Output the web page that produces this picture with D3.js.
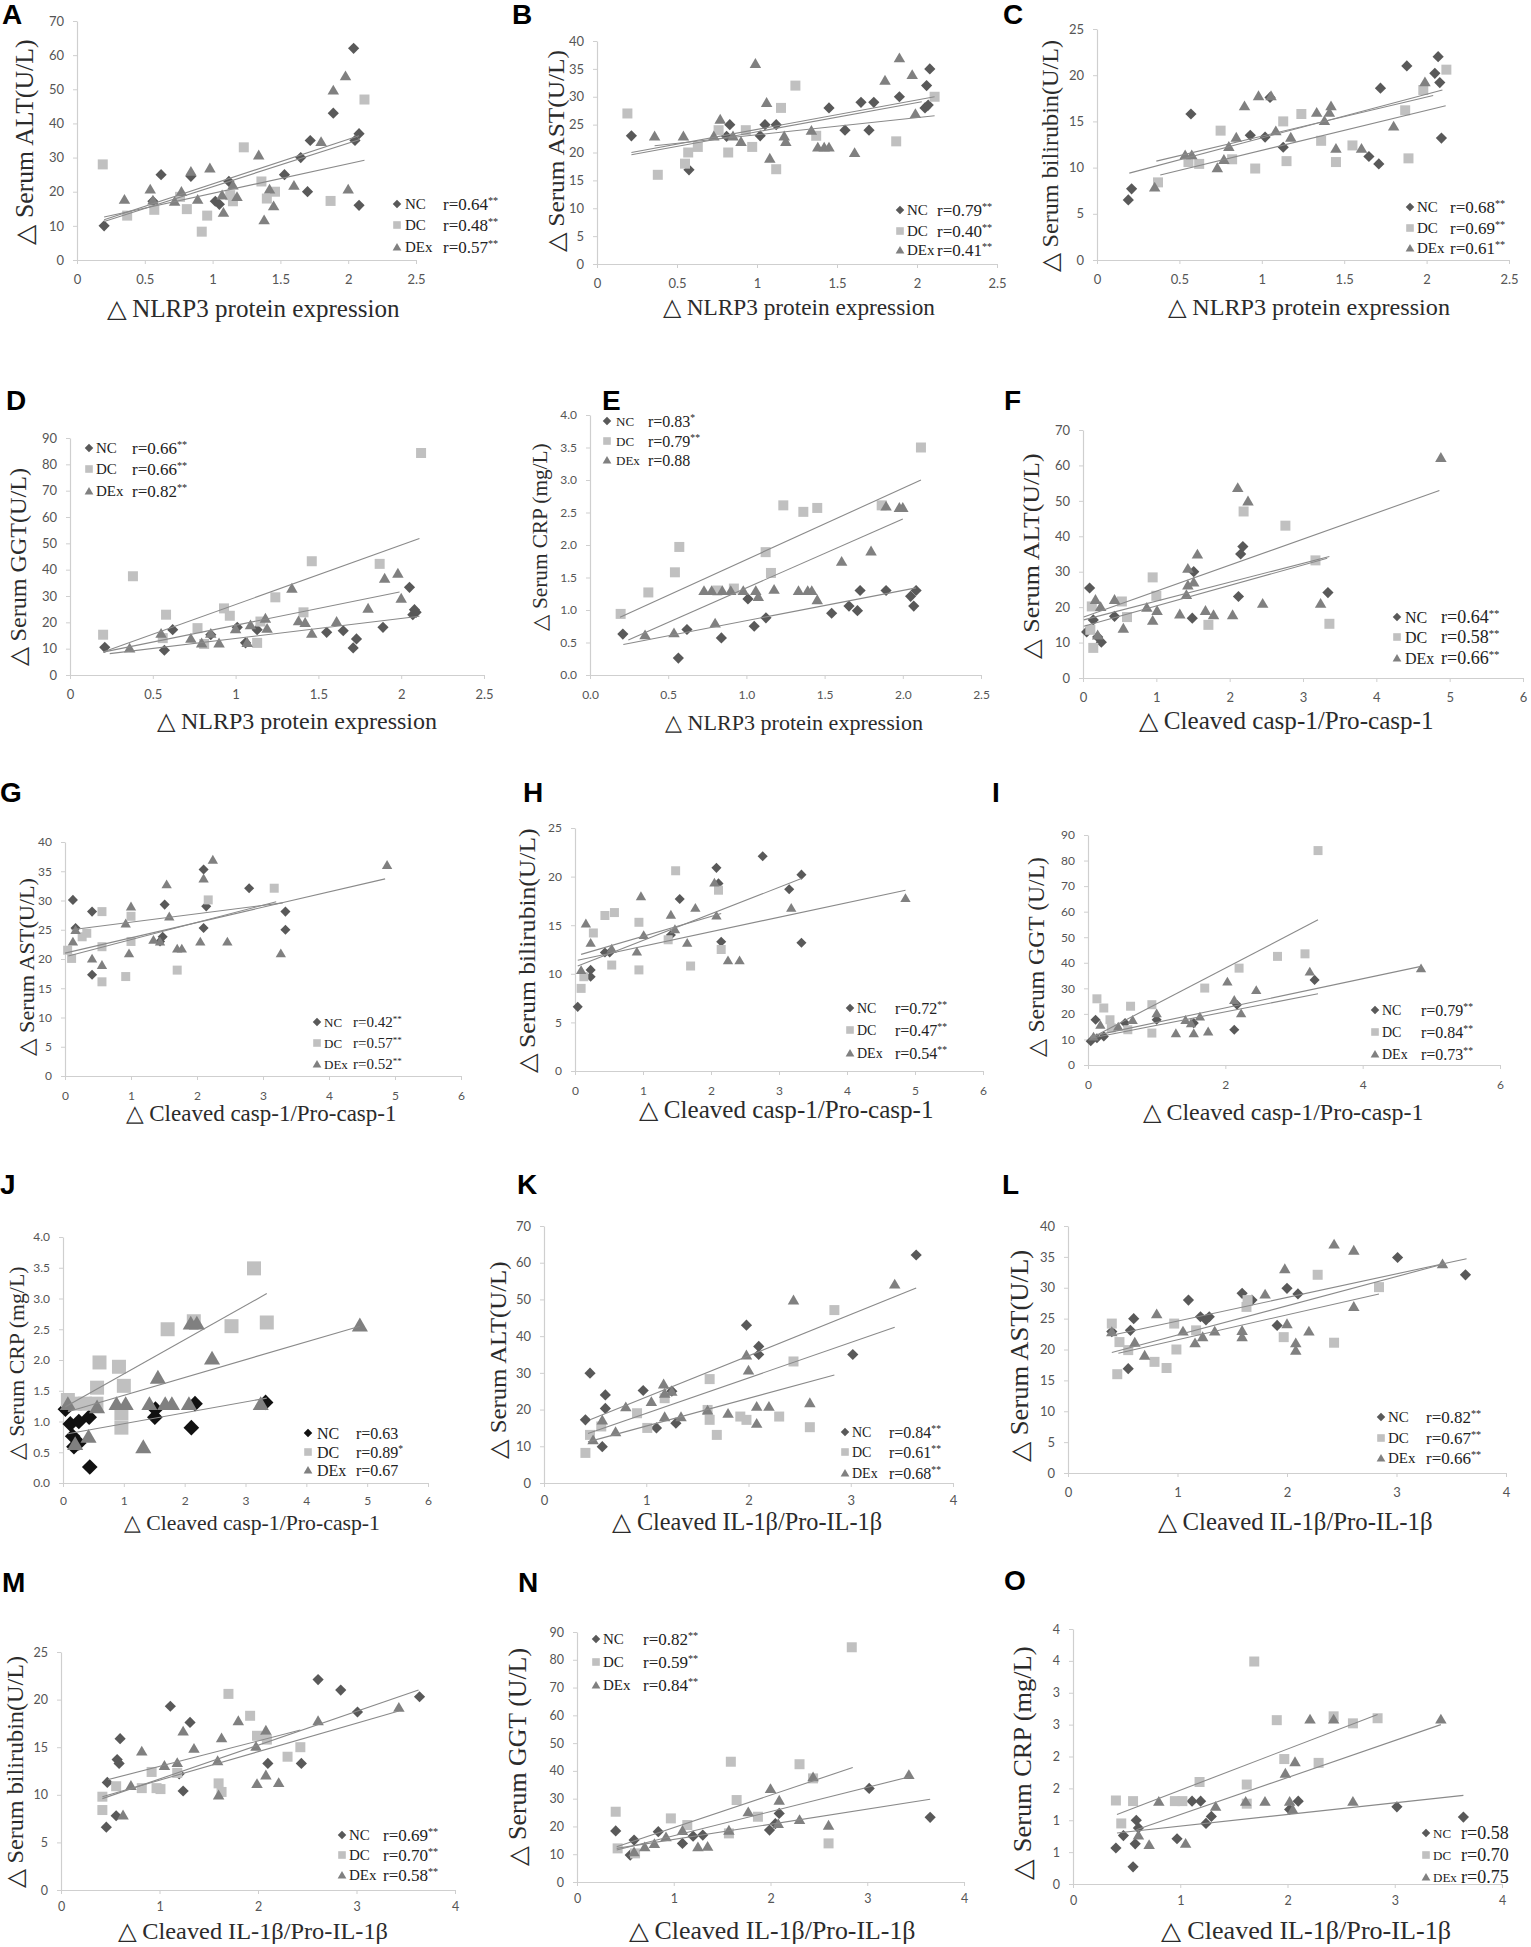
<!DOCTYPE html>
<html><head><meta charset="utf-8">
<script src="https://cdn.jsdelivr.net/npm/d3@7"></script>
<style>body{margin:0;background:#fff}svg{display:block}</style>
</head><body>
<svg id="chart" width="1531" height="1947"></svg>
<script>
// ---------- tick values / labels ----------
const NLRP3_X = [0,0.5,1,1.5,2,2.5];
const E_XL = ["0.0","0.5","1.0","1.5","2.0","2.5"];
const CASP_X = [0,1,2,3,4,5,6];
const I_X = [0,2,4,6];
const IL_X = [0,1,2,3,4];
const ALT_Y = [0,10,20,30,40,50,60,70];
const AST_Y = [0,5,10,15,20,25,30,35,40];
const BIL_Y = [0,5,10,15,20,25];
const GGT_Y = [0,10,20,30,40,50,60,70,80,90];
const CRP_Y = [0,0.5,1,1.5,2,2.5,3,3.5,4];
const CRP_YL = ["0.0","0.5","1.0","1.5","2.0","2.5","3.0","3.5","4.0"];
const O_YL = ["0","1","1","2","2","3","3","4","4"];
const SERIES = ["NC","DC","DEx"];

// ---------- titles ----------
const T_ALT = "△ Serum ALT(U/L)", T_AST = "△ Serum AST(U/L)", T_BIL = "△ Serum bilirubin(U/L)";
const T_GGT = "△ Serum GGT(U/L)", T_GGT2 = "△ Serum GGT (U/L)", T_CRP = "△ Serum CRP (mg/L)";
const T_NLRP3 = "△ NLRP3 protein expression", T_CASP = "△ Cleaved casp-1/Pro-casp-1", T_IL = "△ Cleaved IL-1β/Pro-IL-1β";

// ---------- data (x, y) ----------
const A_NC = [[0.2,10],[0.56,17.2],[0.62,25],[0.84,24.5],[1.02,17.2],[1.05,16.3],[1.12,23],[1.53,25],[1.65,30],[1.70,20],[1.72,35],[1.89,43],[2.04,62],[2.05,35],[2.08,37],[2.08,16]];
const A_DC = [[0.19,28],[0.37,13],[0.57,14.7],[0.76,18.5],[0.81,14.9],[0.92,8.3],[0.96,13],[1.13,19],[1.15,17.2],[1.23,33],[1.36,23],[1.40,18],[1.46,20],[1.87,17.3],[2.12,47]];
const A_DEx = [[0.35,17.8],[0.54,20.8],[0.56,17.6],[0.72,17.2],[0.77,20.1],[0.84,26],[0.89,17.8],[0.98,27],[1.07,19.1],[1.08,14],[1.15,22],[1.18,18.6],[1.34,30.8],[1.38,11.8],[1.42,20.8],[1.45,15.9],[1.60,21.9],[1.80,34.7],[1.89,49.8],[1.98,54],[2.0,20.8]];
const A_fit = [[0.2,11.3,2.08,35.2],[0.2,12.6,2.12,29.2],[0.2,11.8,2.08,36.4]];
const A_r = ["0.64","0.48","0.57"], A_sig = ["**","**","**"];

const B_NC = [[0.215,23],[0.575,16.9],[0.81,22.9],[0.83,25],[1.02,23],[1.05,25],[1.12,25],[1.45,28],[1.55,24],[1.65,29],[1.70,24],[1.73,29],[1.89,30],[2.05,28],[2.06,32],[2.07,28.5],[2.08,35]];
const B_DC = [[0.19,27],[0.38,16],[0.55,18],[0.57,20],[0.63,21],[0.76,24],[0.82,20],[0.93,24],[0.97,21],[1.12,17],[1.15,28],[1.24,32],[1.37,23],[1.87,22],[2.11,30]];
const B_DEx = [[0.36,23],[0.54,23],[0.73,23],[0.77,26],[0.85,23],[0.90,22],[0.99,36],[1.06,29],[1.08,19],[1.17,23],[1.18,22],[1.34,24],[1.38,21],[1.42,21],[1.45,21],[1.61,20],[1.80,33],[1.89,37],[1.97,34],[1.99,27]];
const B_fit = [[0.215,20,2.11,30],[0.215,19.6,2.03,29.1],[0.36,21.2,2.11,26.6]];
const B_r = ["0.79","0.40","0.41"], B_sig = ["**","**","**"];

const C_NC = [[0.19,6.5],[0.21,7.7],[0.57,15.8],[0.93,13.5],[1.02,13.3],[1.05,17.6],[1.13,12.2],[1.65,11.2],[1.71,10.4],[1.72,18.6],[1.88,21],[2.05,20.2],[2.07,22],[2.08,19.2],[2.09,13.2]];
const C_DC = [[0.37,8.4],[0.555,10.6],[0.62,10.4],[0.75,14],[0.82,10.9],[0.96,9.9],[1.13,15],[1.15,10.7],[1.24,15.8],[1.36,12.9],[1.45,10.6],[1.55,12.4],[1.87,16.2],[1.89,11],[1.98,18.4],[2.12,20.6]];
const C_DEx = [[0.35,7.9],[0.535,11.4],[0.575,11.4],[0.73,10],[0.77,10.9],[0.80,12.3],[0.845,13.3],[0.895,16.7],[0.98,17.8],[1.056,17.8],[1.085,14],[1.176,13.3],[1.333,16],[1.38,15.1],[1.41,16],[1.42,16.7],[1.45,12.1],[1.605,12.1],[1.80,14.5],[1.99,19.3]];
const C_fit = [[0.196,9.4,2.096,18.4],[0.36,10.7,2.04,17.8],[0.384,9.2,2.116,16.7]];
const C_r = ["0.68","0.69","0.61"], C_sig = ["**","**","**"];

const D_NC = [[0.21,10.5],[0.57,9.4],[0.62,17.2],[0.85,15.3],[1.01,18.1],[1.06,12.2],[1.13,17.2],[1.55,16.2],[1.65,16.8],[1.71,10.3],[1.73,13.7],[1.89,18.1],[2.05,33.3],[2.07,22.9],[2.08,24.8],[2.09,23.8]];
const D_DC = [[0.2,15.3],[0.38,37.5],[0.56,14],[0.58,22.9],[0.77,17.8],[0.81,11.8],[0.93,25.3],[0.965,22.5],[1.13,12.2],[1.15,20.3],[1.24,29.5],[1.41,23.8],[1.46,43.2],[1.87,42.2],[2.12,84.3]];
const D_DEx = [[0.36,10.3],[0.55,15.9],[0.73,14],[0.795,12.2],[0.85,15.9],[0.90,12.2],[1.0,17.6],[1.07,12.4],[1.09,19.1],[1.18,21.6],[1.19,17.8],[1.34,33],[1.38,20.6],[1.42,20],[1.46,15.9],[1.61,20.4],[1.80,25.4],[1.90,36.8],[1.98,38.7],[2.0,29.2]];
const D_fit = [[0.2,8.7,2.11,51.8],[0.2,8.7,1.99,31.5],[0.24,8.1,2.11,22.3]];
const D_r = ["0.66","0.66","0.82"], D_sig = ["**","**","**"];

const E_NC = [[0.21,0.63],[0.565,0.26],[0.62,0.70],[0.84,0.57],[1.01,1.17],[1.05,0.75],[1.125,0.88],[1.545,0.95],[1.656,1.06],[1.71,0.99],[1.727,1.30],[1.893,1.30],[2.05,1.21],[2.07,1.06],[2.085,1.30]];
const E_DC = [[0.196,0.94],[0.373,1.27],[0.543,1.58],[0.571,1.97],[0.814,1.30],[0.92,1.33],[1.123,1.89],[1.157,1.57],[1.236,2.61],[1.364,2.51],[1.453,2.57],[1.865,2.61],[2.116,3.50]];
const E_DEx = [[0.352,0.62],[0.537,0.65],[0.729,1.30],[0.778,1.30],[0.80,0.80],[0.846,1.30],[0.90,1.30],[0.98,1.30],[1.06,1.30],[1.076,1.21],[1.177,1.32],[1.333,1.30],[1.392,1.30],[1.418,1.30],[1.453,1.16],[1.609,1.75],[1.797,1.91],[1.893,2.60],[1.978,2.58],[2.0,2.58]];
const E_fit = [[0.192,0.89,2.116,3.0],[0.245,0.54,2.0,2.40],[0.213,0.47,2.085,1.34]];
const E_r = ["0.83","0.79","0.88"], E_sig = ["*","**",""];

const F_NC = [[0.05,13],[0.09,25.4],[0.14,16.4],[0.2,11.6],[0.25,10.1],[0.43,17.4],[1.49,16.9],[1.51,30],[2.12,23],[2.15,35],[2.18,37.1],[3.34,24.1]];
const F_DC = [[0.1,13.6],[0.12,20.2],[0.14,8.5],[0.53,21.6],[0.6,17.2],[0.95,28.4],[1.0,23.2],[1.71,15],[2.19,47],[2.76,43],[3.17,33.2],[3.36,15.3]];
const F_DEx = [[0.17,22.2],[0.2,12.2],[0.24,20.2],[0.43,22.2],[0.55,14.1],[0.87,20],[0.95,16.3],[1.01,19.1],[1.32,18.1],[1.41,23.6],[1.43,26.3],[1.43,31],[1.51,27.1],[1.56,35],[1.67,19.1],[1.78,17.9],[2.04,17.9],[2.11,53.8],[2.25,50],[2.45,21.1],[3.24,21.1],[4.88,62.3]];
const F_fit = [[0.01,17.2,4.86,52.9],[0.01,16.4,3.36,34.3],[0.01,14.6,3.33,33.8]];
const F_r = ["0.64","0.58","0.66"], F_sig = ["**","**","**"];

const G_NC = [[0.12,30.1],[0.16,25.3],[0.41,28.1],[0.41,17.3],[1.44,23],[1.48,23.8],[1.51,29.3],[2.1,35.3],[2.1,25.3],[2.14,29],[2.79,32.1],[3.34,28.1],[3.34,25]];
const G_DC = [[0.04,21.5],[0.1,20.1],[0.26,23.8],[0.33,24.4],[0.56,28.1],[0.56,16.1],[0.56,22.1],[0.92,17],[1.0,27.3],[1.0,23],[1.7,18.1],[2.17,30.1],[3.17,32.1]];
const G_DEx = [[0.12,23],[0.16,25],[0.41,20.1],[0.56,19],[0.92,26.1],[0.97,21],[1.0,29],[1.34,23.3],[1.44,23],[1.54,32.8],[1.58,27.3],[1.7,21.8],[1.77,21.8],[2.05,23],[2.1,33.8],[2.24,37],[2.46,23],[3.27,21],[4.88,36.1]];
const G_fit = [[0,21,4.85,33.7],[0.1,25,3.3,29.6],[0.05,20.5,3.2,29.8]];
const G_r = ["0.42","0.57","0.52"], G_sig = ["**","**","**"];

const H_NC = [[0.04,6.6],[0.23,9.7],[0.23,10.4],[0.44,12.2],[0.51,12.2],[1.41,14],[1.54,17.7],[2.08,20.9],[2.11,19.3],[2.15,13.3],[2.76,22.1],[3.15,18.7],[3.33,20.2],[3.33,13.2]];
const H_DC = [[0.09,8.5],[0.13,9.7],[0.27,14.2],[0.44,16],[0.54,10.9],[0.58,16.3],[0.94,15.3],[0.94,10.4],[1.37,13.5],[1.48,20.6],[1.7,10.8],[2.11,18.6],[2.15,12.5]];
const H_DEx = [[0.09,10.4],[0.16,15.2],[0.23,13.2],[0.54,12.6],[0.91,12.3],[0.97,18],[1.01,14],[1.41,16.1],[1.47,14.6],[1.65,13.2],[1.77,16.8],[2.05,19.4],[2.08,16],[2.25,11.4],[2.42,11.4],[3.18,16.8],[4.86,17.8]];
const H_fit = [[0.04,10.8,3.33,19.8],[0.04,11.4,4.86,18.6],[0.09,12,2.15,16.2]];
const H_r = ["0.72","0.47","0.54"], H_sig = ["**","**","**"];

const I_NC = [[0.04,9.3],[0.11,17.7],[0.13,10.5],[0.23,11.2],[0.54,16.4],[1.0,17.7],[1.54,16.4],[2.13,13.8],[2.17,23.6],[3.3,33.3]];
const I_DC = [[0.13,25.9],[0.23,22.3],[0.32,17.7],[0.34,14.5],[0.58,13.8],[0.62,23],[0.93,23.6],[0.93,12.5],[1.7,30.1],[2.2,37.9],[2.76,42.5],[3.16,43.5],[3.35,83.9]];
const I_DEx = [[0.08,11.2],[0.18,15.8],[0.44,15.1],[0.65,17.7],[1.0,20.3],[1.28,12.5],[1.42,17.7],[1.5,16.4],[1.54,12.5],[1.63,19],[1.75,13.2],[2.03,32.7],[2.13,25.5],[2.23,20.3],[2.45,29.4],[3.23,36.6],[4.85,37.9]];
const I_fit = [[0.04,10.5,3.35,56.8],[0.04,11.2,4.85,38.6],[0.04,10.5,3.35,27.9]];
const I_r = ["0.79","0.84","0.73"], I_sig = ["**","**","**"];

const J_NC = [[0.04,1.2],[0.12,0.96],[0.16,0.76],[0.18,0.59],[0.26,1.0],[0.26,0.65],[0.43,1.07],[0.44,0.26],[1.51,1.07],[1.52,1.2],[2.11,0.9],[2.17,1.29],[3.33,1.31]];
const J_DC = [[0.08,1.35],[0.2,1.29],[0.36,1.29],[0.55,1.29],[0.56,1.55],[0.6,1.96],[0.92,1.89],[0.96,0.9],[0.96,1.13],[1.0,1.58],[1.72,2.5],[2.15,2.63],[2.77,2.55],[3.14,3.49],[3.35,2.61]];
const J_DEx = [[0.08,1.29],[0.2,0.64],[0.42,0.76],[0.56,1.24],[0.88,1.29],[1.03,1.29],[1.32,0.59],[1.42,1.29],[1.56,1.72],[1.68,1.29],[1.79,1.29],[2.07,1.29],[2.1,2.6],[2.2,2.6],[2.45,2.03],[3.25,1.29],[4.88,2.57]];
const J_fit = [[0.04,1.24,3.35,3.08],[0.08,1.16,4.88,2.55],[0.08,0.8,3.35,1.38]];
const J_r = ["0.63","0.89","0.67"], J_sig = ["","*",""];

const K_NC = [[0.405,17.2],[0.45,29.9],[0.57,9.9],[0.6,24],[0.6,20.3],[0.97,25.2],[1.1,15],[1.25,25],[1.29,16.3],[1.98,43],[2.1,37.2],[2.1,35],[3.02,35],[3.64,62.1]];
const K_DC = [[0.405,8.2],[0.45,13.1],[0.56,15.4],[0.91,19],[1.01,15],[1.18,23.1],[1.6,19.9],[1.62,28.3],[1.62,17.2],[1.69,13.1],[1.92,18.1],[1.98,17.2],[2.3,18.1],[2.44,33.1],[2.6,15.2],[2.84,47.1]];
const K_DEx = [[0.48,11.8],[0.57,17.2],[0.7,14],[0.8,20.8],[1.05,22.2],[1.17,27],[1.18,24.5],[1.18,18.1],[1.25,25],[1.34,18.1],[1.6,19.9],[1.8,19],[1.98,34.9],[2.0,30.8],[2.08,20.9],[2.08,16.3],[2.2,20.9],[2.44,49.9],[2.6,21.9],[3.43,54.2]];
const K_fit = [[0.45,17.2,3.64,53.1],[0.43,13.5,3.43,42.4],[0.43,11.2,2.84,29.4]];
const K_r = ["0.84","0.61","0.68"], K_sig = ["**","**","**"];

const L_NC = [[0.4,22.9],[0.55,16.9],[0.57,23.1],[0.6,25],[1.1,28],[1.21,25.3],[1.26,24.8],[1.29,25.3],[1.59,29.1],[1.68,28],[1.91,23.9],[2.0,29.9],[2.1,29],[3.01,34.9],[3.63,32.1]];
const L_DC = [[0.4,24.2],[0.45,16],[0.47,21.2],[0.55,19.9],[0.79,18],[0.9,17],[0.97,24.2],[0.99,20],[1.17,23.1],[1.63,26.9],[1.64,28],[1.97,22],[2.28,32.1],[2.43,21.1],[2.84,30.1]];
const L_DEx = [[0.4,22.9],[0.61,21.2],[0.7,19.1],[0.81,25.8],[1.05,23],[1.16,21.1],[1.23,22.1],[1.34,23],[1.59,23.1],[1.59,22.1],[1.8,29],[1.98,33.1],[2.0,24.2],[2.08,21.1],[2.08,19.9],[2.2,23],[2.43,37.1],[2.61,36.1],[2.61,27],[3.42,33.9]];
const L_fit = [[0.4,22.3,3.64,34.7],[0.4,19.5,3.42,33.8],[0.46,19.4,2.84,29]];
const L_r = ["0.82","0.67","0.66"], L_sig = ["**","**","**"];

const M_NC = [[0.46,6.6],[0.47,11.3],[0.56,7.8],[0.57,13.7],[0.59,13.3],[0.6,15.9],[1.11,19.3],[1.2,12.2],[1.24,10.4],[1.31,17.6],[2.1,13.3],[2.44,13.3],[2.61,22.1],[2.84,21],[3.01,18.7],[3.64,20.3]];
const M_DC = [[0.42,9.8],[0.42,8.4],[0.56,10.9],[0.82,10.7],[0.92,12.4],[0.97,10.7],[1.01,10.6],[1.18,12.3],[1.6,11.2],[1.63,10.3],[1.7,20.6],[1.92,18.3],[1.99,16.2],[2.09,15.8],[2.3,14],[2.43,15]];
const M_DEx = [[0.63,7.9],[0.71,11],[0.82,14.6],[1.05,13.1],[1.18,13.4],[1.24,16.7],[1.35,14.9],[1.59,13.6],[1.6,10],[1.63,16],[1.8,17.8],[1.98,15.1],[1.99,11.2],[2.08,16.8],[2.08,12.1],[2.21,11.3],[2.61,17.8],[3.43,19.2]];
const M_fit = [[0.42,9.6,3.63,21],[0.48,11.6,2.43,16.8],[0.42,9.8,3.43,18.8]];
const M_r = ["0.69","0.70","0.58"], M_sig = ["**","**","**"];

const N_NC = [[0.40,18.4],[0.55,9.7],[0.59,15.1],[0.84,18.1],[1.09,13.9],[1.2,16.5],[1.3,16.9],[1.99,18.7],[2.05,21],[2.09,24.7],[3.02,33.7],[3.65,23.3]];
const N_DC = [[0.40,25.3],[0.42,12.1],[0.6,10.3],[0.97,22.9],[1.14,20.5],[1.57,17.5],[1.59,43.3],[1.65,29.5],[1.87,23.5],[2.3,42.4],[2.44,37.3],[2.6,13.9],[2.84,84.5]];
const N_DEx = [[0.59,10.9],[0.7,12.7],[0.8,13.9],[0.92,16.3],[1.09,18.6],[1.25,12.7],[1.35,12.9],[1.57,18.7],[1.77,25.3],[2.0,33.7],[2.08,21.1],[2.09,29.5],[2.3,22.5],[2.44,37.9],[2.6,20.5],[3.43,38.7]];
const N_fit = [[0.41,12.7,2.85,41.2],[0.41,11.5,3.44,37.9],[0.41,12.1,3.65,29.8]];
const N_r = ["0.82","0.59","0.84"], N_sig = ["**","**","**"];

const O_NC = [[0.4,0.565],[0.47,0.76],[0.56,0.27],[0.58,0.63],[0.59,1.0],[0.61,0.88],[0.97,0.71],[1.11,1.3],[1.19,1.3],[1.24,0.95],[1.29,1.06],[2.02,1.17],[2.1,1.3],[3.02,1.21],[3.64,1.05]];
const O_DC = [[0.4,1.31],[0.45,0.95],[0.56,1.3],[0.95,1.3],[1.02,1.3],[1.18,1.6],[1.62,1.56],[1.62,1.26],[1.69,3.49],[1.9,2.57],[1.97,1.96],[2.29,1.9],[2.43,2.63],[2.61,2.52],[2.84,2.6]];
const O_DEx = [[0.61,0.77],[0.71,0.62],[0.8,1.3],[1.05,0.64],[1.33,1.22],[1.61,1.3],[1.79,1.3],[1.98,1.74],[2.02,1.3],[2.05,1.17],[2.07,1.92],[2.21,2.59],[2.43,2.59],[2.61,1.3],[3.43,2.59]];
const O_fit = [[0.41,1.09,2.84,2.66],[0.59,0.85,3.43,2.5],[0.41,0.8,3.64,1.39]];
const O_r = ["0.58","0.70","0.75"], O_sig = ["","",""];

// ---------- layout (pixels) ----------
// box: [left, right, top, bottom]; yT/xT: [x, y, length, fontSize]; leg: [markerX, labelX, rX, row1, row2, row3]
const panels = [
 {k:"A",nc:A_NC,dc:A_DC,dex:A_DEx,fit:A_fit,r:A_r,sig:A_sig,xt:NLRP3_X,yt:ALT_Y,yTitle:T_ALT,xTitle:T_NLRP3,box:[77,416,21,260],letter:[2,24],yT:[25,142,205,24.5],xT:[253,317,293,24.5],leg:[397,405,443,204,225,247],lf:[15,17]},
 {k:"B",nc:B_NC,dc:B_DC,dex:B_DEx,fit:B_fit,r:B_r,sig:B_sig,xt:NLRP3_X,yt:AST_Y,yTitle:T_AST,xTitle:T_NLRP3,box:[597,997,41,264],letter:[512,24],yT:[556,151,202,24],xT:[799,315,272,23.5],leg:[900,907,937,210,231,250],lf:[15,17]},
 {k:"C",nc:C_NC,dc:C_DC,dex:C_DEx,fit:C_fit,r:C_r,sig:C_sig,xt:NLRP3_X,yt:BIL_Y,yTitle:T_BIL,xTitle:T_NLRP3,box:[1097,1509,29,260],letter:[1003,24],yT:[1050,156,232,23.5],xT:[1309,315,282,24],leg:[1410,1417,1450,207,228,248],lf:[15,17]},
 {k:"D",nc:D_NC,dc:D_DC,dex:D_DEx,fit:D_fit,r:D_r,sig:D_sig,xt:NLRP3_X,yt:GGT_Y,yTitle:T_GGT,xTitle:T_NLRP3,box:[70,484,438,675],letter:[6,410],yT:[18,567,198,23.5],xT:[297,729,280,24],leg:[89,96,132,448,469,491],lf:[15,17]},
 {k:"E",nc:E_NC,dc:E_DC,dex:E_DEx,fit:E_fit,r:E_r,sig:E_sig,xt:NLRP3_X,xtl:E_XL,yt:CRP_Y,ytl:CRP_YL,yTitle:T_CRP,xTitle:T_NLRP3,box:[590,981,415,675],letter:[602,410],yT:[540,537,187,21],xT:[794,730,258,22],leg:[607,616,648,421,441,460],lf:[13,16],tick:12},
 {k:"F",nc:F_NC,dc:F_DC,dex:F_DEx,fit:F_fit,r:F_r,sig:F_sig,xt:CASP_X,yt:ALT_Y,yTitle:T_ALT,xTitle:T_CASP,box:[1083,1523,430,678],letter:[1004,410],yT:[1031,556,205,24],xT:[1286,729,295,25],leg:[1397,1405,1441,617,637,658],lf:[16,18]},
 {k:"G",nc:G_NC,dc:G_DC,dex:G_DEx,fit:G_fit,r:G_r,sig:G_sig,xt:CASP_X,yt:AST_Y,yTitle:T_AST,xTitle:T_CASP,box:[65,461,842,1076],letter:[0,802],yT:[27,967,178,21.5],xT:[261,1121,271,23],leg:[317,324,353,1022,1043,1064],lf:[13,15],ms:4.5,tick:12},
 {k:"H",nc:H_NC,dc:H_DC,dex:H_DEx,fit:H_fit,r:H_r,sig:H_sig,xt:CASP_X,yt:BIL_Y,yTitle:T_BIL,xTitle:T_CASP,box:[575,983,828,1071],letter:[523,802],yT:[527,951,245,24],xT:[786,1118,295,25],leg:[850,857,895,1008,1030,1053],lf:[14,16],ms:4.5,tick:12},
 {k:"I",nc:I_NC,dc:I_DC,dex:I_DEx,fit:I_fit,r:I_r,sig:I_sig,xt:I_X,yt:GGT_Y,yTitle:T_GGT2,xTitle:T_CASP,box:[1088,1500,835,1065],letter:[992,802],yT:[1036,957,200,23],xT:[1283,1120,281,24],leg:[1375,1382,1421,1010,1032,1054],lf:[14,16],ms:4.5,tick:12},
 {k:"J",nc:J_NC,dc:J_DC,dex:J_DEx,fit:J_fit,r:J_r,sig:J_sig,xt:CASP_X,yt:CRP_Y,ytl:CRP_YL,yTitle:T_CRP,xTitle:T_CASP,box:[63,428,1237,1483],letter:[0,1194],yT:[17,1363,193,21.5],xT:[252,1530,256,22],leg:[308,317,356,1433,1452,1470],lf:[16,16],ms:7,ncColor:"#111111",tick:12,xpad:9},
 {k:"K",nc:K_NC,dc:K_DC,dex:K_DEx,fit:K_fit,r:K_r,sig:K_sig,xt:IL_X,yt:ALT_Y,yTitle:T_ALT,xTitle:T_IL,box:[544,953,1226,1483],letter:[517,1194],yT:[498,1360,197,23.5],xT:[747,1530,270,24.5],leg:[845,852,889,1432,1452,1473],lf:[14,16],xpad:9},
 {k:"L",nc:L_NC,dc:L_DC,dex:L_DEx,fit:L_fit,r:L_r,sig:L_sig,xt:IL_X,yt:AST_Y,yTitle:T_AST,xTitle:T_IL,box:[1068,1506,1226,1473],letter:[1002,1194],yT:[1020,1356,212,25],xT:[1295,1530,275,25],leg:[1381,1388,1426,1417,1438,1458],lf:[15,17]},
 {k:"M",nc:M_NC,dc:M_DC,dex:M_DEx,fit:M_fit,r:M_r,sig:M_sig,xt:IL_X,yt:BIL_Y,yTitle:T_BIL,xTitle:T_IL,box:[61,455,1652,1890],letter:[2,1592],yT:[15,1772,232,23.5],xT:[253,1939,270,24],leg:[342,349,383,1835,1855,1875],lf:[15,17],xpad:8,tick:12.5},
 {k:"N",nc:N_NC,dc:N_DC,dex:N_DEx,fit:N_fit,r:N_r,sig:N_sig,xt:IL_X,yt:GGT_Y,yTitle:T_GGT2,xTitle:T_IL,box:[577,964,1632,1882],letter:[518,1592],yT:[518,1757,218,25],xT:[772,1939,287,25],leg:[596,603,643,1639,1662,1685],lf:[15,17],xpad:8,tick:12.5},
 {k:"O",nc:O_NC,dc:O_DC,dex:O_DEx,fit:O_fit,r:O_r,sig:O_sig,xt:IL_X,yt:CRP_Y,ytl:O_YL,yTitle:T_CRP,xTitle:T_IL,box:[1073,1502,1629,1884],letter:[1004,1590],yT:[1023,1763,233,25.5],xT:[1306,1939,290,25],leg:[1426,1433,1461,1833,1855,1877],lf:[13,18],xpad:8,tick:12.5}
];

const COLORS = {nc:"#595959", dc:"#c0c0c0", dex:"#808080"};
const SERIF = "'Liberation Serif','Times New Roman',serif";
const SANS = "Lato,'Open Sans',sans-serif";

function markerPath(type, s) {
  if (type === "nc") { const d = s * 1.12; return `M0,${-d}L${d},0L0,${d}L${-d},0Z`; }
  if (type === "dc") return `M${-s},${-s}H${s}V${s}H${-s}Z`;
  return `M0,${-s * 1.05}L${s * 1.15},${s * 0.92}L${-s * 1.15},${s * 0.92}Z`;
}

const svg = d3.select("#chart");
svg.append("rect").attr("width",1531).attr("height",1947).attr("fill","#fff");

panels.forEach(p => {
  const g = svg.append("g").attr("class","panel-" + p.k);
  const [L, R, T, B] = p.box;
  const ms = p.ms || 5, tick = p.tick || 13, xpad = p.xpad || 11;
  const x = d3.scaleLinear().domain([p.xt[0], p.xt[p.xt.length - 1]]).range([L, R]);
  const y = d3.scaleLinear().domain([p.yt[0], p.yt[p.yt.length - 1]]).range([B, T]);

  const xa = g.append("g").attr("transform", `translate(0,${B})`)
    .call(d3.axisBottom(x).tickValues(p.xt).tickSize(4).tickSizeOuter(0).tickPadding(xpad)
      .tickFormat((d, i) => p.xtl ? p.xtl[i] : String(d)));
  const ya = g.append("g").attr("transform", `translate(${L},0)`)
    .call(d3.axisLeft(y).tickValues(p.yt).tickSize(4).tickSizeOuter(0).tickPadding(9)
      .tickFormat((d, i) => p.ytl ? p.ytl[i] : String(d)));
  [xa, ya].forEach(a => {
    a.select(".domain").attr("stroke", "#cfcfcf").attr("stroke-width", 1.2);
    a.selectAll(".tick line").attr("stroke", "#cfcfcf");
    a.selectAll(".tick text").attr("fill", "#555").attr("font-family", SANS).attr("font-size", tick);
  });

  // points
  ["nc", "dc", "dex"].forEach(key => {
    g.append("g").selectAll("path").data(p[key]).join("path")
      .attr("d", markerPath(key, ms))
      .attr("transform", d => `translate(${x(d[0])},${y(d[1])})`)
      .attr("fill", key === "nc" && p.ncColor ? p.ncColor : COLORS[key]);
  });

  // trend lines
  g.append("g").selectAll("line").data(p.fit).join("line")
    .attr("x1", d => x(d[0])).attr("y1", d => y(d[1]))
    .attr("x2", d => x(d[2])).attr("y2", d => y(d[3]))
    .attr("stroke", "#8a8a8a").attr("stroke-width", 1.1);

  // panel letter
  g.append("text").attr("x", p.letter[0]).attr("y", p.letter[1])
    .attr("font-family", "'Liberation Sans',Arial,sans-serif").attr("font-weight", "bold")
    .attr("font-size", 28).attr("fill", "#000").text(p.k);

  // y title
  const [yx, yy, yl, yfs] = p.yT;
  g.append("text").attr("transform", `translate(${yx + 0.33 * yfs},${yy}) rotate(-90)`)
    .attr("text-anchor", "middle").attr("font-family", SERIF).attr("font-size", yfs)
    .attr("fill", "#2b2b2b").attr("textLength", yl).attr("lengthAdjust", "spacingAndGlyphs").text(p.yTitle);
  // x title
  const [xx, xy, xl, xfs] = p.xT;
  g.append("text").attr("x", xx).attr("y", xy).attr("text-anchor", "middle")
    .attr("font-family", SERIF).attr("font-size", xfs).attr("fill", "#2b2b2b")
    .attr("textLength", xl).attr("lengthAdjust", "spacingAndGlyphs").text(p.xTitle);

  // legend
  const [mx, lx, rx] = p.leg;
  const rows = p.leg.slice(3);
  const [lfs, rfs] = p.lf;
  ["nc", "dc", "dex"].forEach((key, i) => {
    const ry = rows[i];
    g.append("path").attr("d", markerPath(key, 3.8))
      .attr("transform", `translate(${mx},${ry})`)
      .attr("fill", key === "nc" && p.ncColor ? p.ncColor : COLORS[key]);
    g.append("text").attr("x", lx).attr("y", ry + 0.36 * lfs)
      .attr("font-family", SERIF).attr("font-size", lfs).attr("fill", "#222").text(SERIES[i]);
    const t = g.append("text").attr("x", rx).attr("y", ry + 0.36 * rfs)
      .attr("font-family", SERIF).attr("font-size", rfs).attr("fill", "#222");
    t.append("tspan").text("r=" + p.r[i]);
    if (p.sig[i]) t.append("tspan").attr("dy", -0.38 * rfs).attr("font-size", rfs * 0.6).text(p.sig[i]);
  });
});
</script>
</body></html>
